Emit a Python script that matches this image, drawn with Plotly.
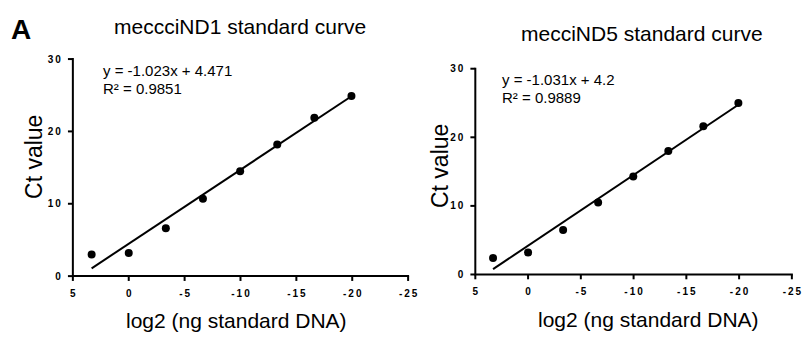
import plotly.graph_objects as go

W, H = 812, 340

# ---- data ----
log2_dna = [3.32, 0.0, -3.32, -6.64, -9.97, -13.29, -16.61, -19.93]
ct_nd1 = [3.0, 3.2, 6.6, 10.7, 14.5, 18.2, 21.9, 24.9]
ct_nd5 = [2.4, 3.2, 6.5, 10.5, 14.3, 18.0, 21.6, 25.0]
fit_nd1 = {"slope": -1.023, "intercept": 4.471, "r2": "0.9851"}
fit_nd5 = {"slope": -1.031, "intercept": 4.2, "r2": "0.9889"}
x_ticks = [5, 0, -5, -10, -15, -20, -25]
y_ticks = [0, 10, 20, 30]
titles = ["meccciND1 standard curve", "mecciND5 standard curve"]
x_title = "log2 (ng standard DNA)"
y_title = "Ct value"
panel_label = "A"

FONT = "Arial, Liberation Sans, Helvetica, sans-serif"
THIN = "\u2009"
CLEAR = "rgba(0,0,0,0)"
TICK_PX = 5

# panel pixel boxes: (left, right, bottom, top)
boxes = [(71, 411.7, 280, 55), (480, 801.7, 278.3, 65)]


def spaced(v):
    return "<b>" + THIN.join(list(str(v))) + "</b>"


def px(x):
    return x / W


def py(y):
    return 1 - y / H


fig = go.Figure()

x0, x1 = x_ticks[0], x_ticks[-1]
y0, y1 = y_ticks[0], y_ticks[-1]

for i, (ct, fit) in enumerate([(ct_nd1, fit_nd1), (ct_nd5, fit_nd5)]):
    xa = "x" if i == 0 else "x2"
    ya = "y" if i == 0 else "y2"
    fx = [log2_dna[0], log2_dna[-1]]
    fy = [fit["slope"] * v + fit["intercept"] for v in fx]
    fig.add_trace(go.Scatter(x=fx, y=fy, mode="lines", xaxis=xa, yaxis=ya,
                             line=dict(color="black", width=2), showlegend=False,
                             hoverinfo="skip", cliponaxis=False))
    fig.add_trace(go.Scatter(x=log2_dna, y=ct, mode="markers", xaxis=xa, yaxis=ya,
                             marker=dict(color="black", size=8), showlegend=False,
                             cliponaxis=False))

# axis frames + tick marks on a full-page overlay subplot (pixel coordinates),
# positioned with the same linear mapping as the data axes (domain + range)
fx_all, fy_all = [], []
for (l, r, b, t) in boxes:
    def sx(v):
        return l + (v - x0) / (x1 - x0) * (r - l)

    def sy(v):
        return b - (v - y0) / (y1 - y0) * (b - t)

    fx_all += [r + 1, l, l, None]
    fy_all += [b, b, t - 1, None]
    for v in x_ticks:
        fx_all += [sx(v), sx(v), None]
        fy_all += [b, b + TICK_PX, None]
    for v in y_ticks:
        fx_all += [l, l - TICK_PX, None]
        fy_all += [sy(v), sy(v), None]

fig.add_trace(go.Scatter(x=fx_all, y=fy_all, mode="lines", xaxis="x3", yaxis="y3",
                         line=dict(color="black", width=2), showlegend=False,
                         hoverinfo="skip", connectgaps=False))


def x_axis(domain, anchor):
    return dict(domain=domain, anchor=anchor, range=[x0, x1],
                showline=False, ticks="outside", ticklen=8, tickcolor=CLEAR,
                showgrid=False, zeroline=False,
                tickmode="array", tickvals=x_ticks,
                ticktext=[spaced(v) for v in x_ticks],
                tickfont=dict(family=FONT, size=10, color="black"))


def y_axis(domain, anchor):
    return dict(domain=domain, anchor=anchor, range=[y0, y1],
                showline=False, ticks="outside", ticklen=9, tickcolor=CLEAR,
                showgrid=False, zeroline=False,
                tickmode="array", tickvals=y_ticks,
                ticktext=[spaced(v) for v in y_ticks],
                tickfont=dict(family=FONT, size=10, color="black"))


(l1, r1, b1, t1), (l2, r2, b2, t2) = boxes
fig.update_layout(
    width=W, height=H,
    margin=dict(l=0, r=0, t=0, b=0),
    paper_bgcolor="white", plot_bgcolor=CLEAR,
    xaxis=x_axis([px(l1), px(r1)], "y"),
    yaxis=y_axis([py(b1), py(t1)], "x"),
    xaxis2=x_axis([px(l2), px(r2)], "y2"),
    yaxis2=y_axis([py(b2), py(t2)], "x2"),
    xaxis3=dict(domain=[0, 1], range=[0, W], visible=False, anchor="y3",
                fixedrange=True),
    yaxis3=dict(domain=[0, 1], range=[H, 0], visible=False, anchor="x3",
                fixedrange=True),
)

ann = []


def add(text, x, y, size, xanchor="center", bold=False, angle=0):
    ann.append(dict(text=f"<b>{text}</b>" if bold else text, x=px(x), y=py(y),
                    xref="paper", yref="paper",
                    xanchor=xanchor, yanchor="middle", showarrow=False, textangle=angle,
                    font=dict(family=FONT, size=size, color="black")))


add(panel_label, 6, 24, 28, xanchor="left", bold=True)
add(titles[0], 241, 21, 21)
add(titles[1], 649, 29, 21)
add(x_title, 237.5, 326, 21)
add(x_title, 656, 325, 21)
add(y_title, 31.5, 156.5, 23, angle=-90)
add(y_title, 444, 166, 23, angle=-90)

for fit, xl, ya1, ya2 in [(fit_nd1, 100, 66.5, 86), (fit_nd5, 505, 76.5, 95)]:
    add(f"y = {fit['slope']}x + {fit['intercept']}", xl, ya1, 15, xanchor="left")
    add(f"R² = {fit['r2']}", xl, ya2, 15, xanchor="left")

fig.update_layout(annotations=ann)

fig.write_html("out.html", config={"displayModeBar": False},
               post_script="document.body.style.margin='0';")
